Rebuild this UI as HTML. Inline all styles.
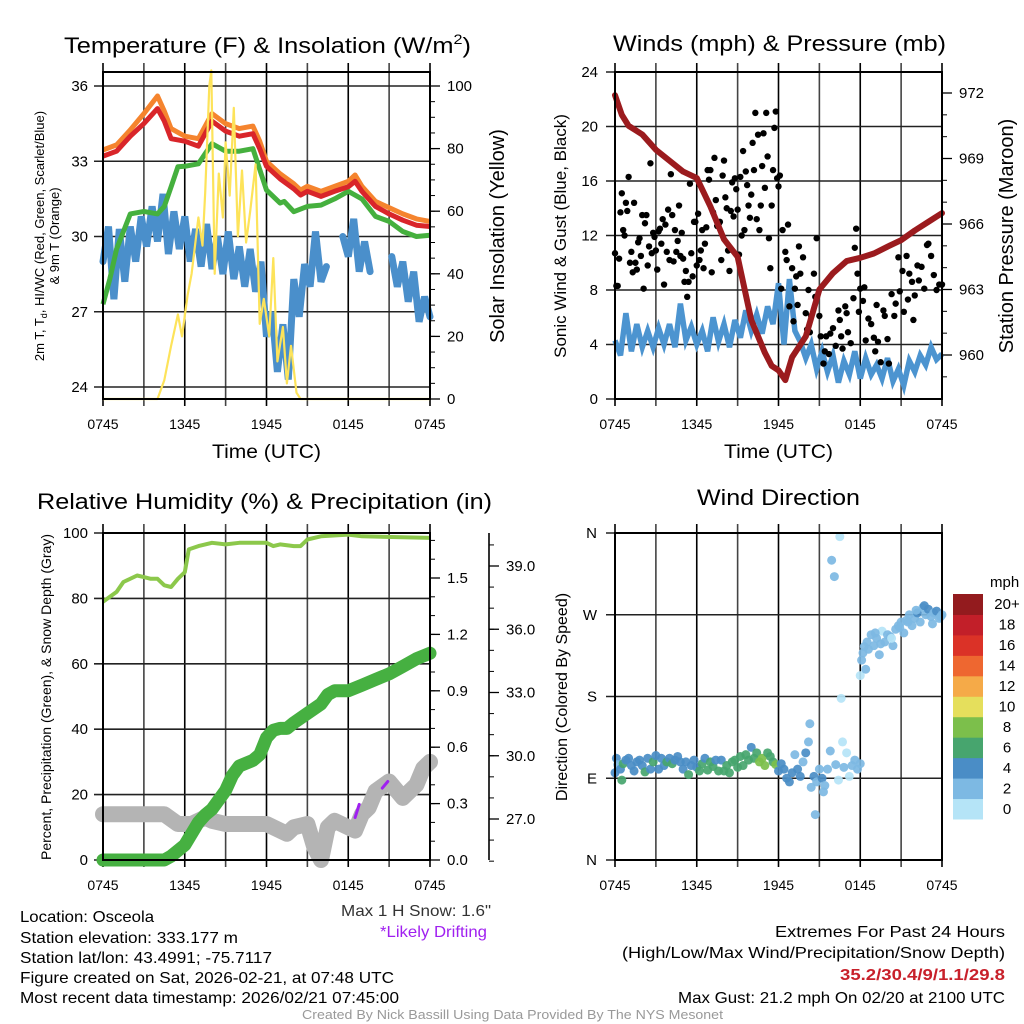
<!DOCTYPE html>
<html><head><meta charset="utf-8"><style>
html,body{margin:0;padding:0;background:#fff}
svg{display:block;font-family:"Liberation Sans",sans-serif}
</style></head><body>
<svg id="fig" xmlns="http://www.w3.org/2000/svg" width="1024" height="1024" viewBox="0 0 1024 1024">
<rect width="1024" height="1024" fill="#fff"/>
<g id="layer"></g>
<g font-size="22" fill="#000">
<text x="64" y="53" textLength="407" lengthAdjust="spacingAndGlyphs">Temperature (F) &amp; Insolation (W/m<tspan dy="-9" font-size="14">2</tspan><tspan dy="9">)</tspan></text>
<text x="613" y="51" textLength="333" lengthAdjust="spacingAndGlyphs">Winds (mph) &amp; Pressure (mb)</text>
<text x="37" y="509" textLength="455" lengthAdjust="spacingAndGlyphs">Relative Humidity (%) &amp; Precipitation (in)</text>
<text x="697" y="505" textLength="163" lengthAdjust="spacingAndGlyphs">Wind Direction</text>
</g>
<g font-size="19">
<text x="212" y="458" textLength="109" lengthAdjust="spacingAndGlyphs">Time (UTC)</text>
<text x="724" y="458" textLength="109" lengthAdjust="spacingAndGlyphs">Time (UTC)</text>
<text transform="translate(504,236) rotate(-90)" text-anchor="middle" font-size="20">Solar Insolation (Yellow)</text>
<text transform="translate(566,236) rotate(-90)" text-anchor="middle" font-size="17">Sonic Wind &amp; Gust (Blue, Black)</text>
<text transform="translate(1013,236) rotate(-90)" text-anchor="middle" font-size="20">Station Pressure (Maroon)</text>
<text transform="translate(567,697) rotate(-90)" text-anchor="middle" font-size="16">Direction (Colored By Speed)</text>
<text transform="translate(51,697) rotate(-90)" text-anchor="middle" font-size="14">Percent, Precipitation (Green), &amp; Snow Depth (Gray)</text>
<text transform="translate(44,236) rotate(-90)" text-anchor="middle" font-size="13">2m T, T<tspan font-size="9" dy="3">d</tspan><tspan dy="-3">, HI/WC (Red, Green, Scarlet/Blue)</tspan></text>
<text transform="translate(59,236) rotate(-90)" text-anchor="middle" font-size="13">&amp; 9m T (Orange)</text>
</g>
<g font-size="16">
<text x="20" y="922" textLength="134" lengthAdjust="spacingAndGlyphs">Location: Osceola</text>
<text x="20" y="943" textLength="218" lengthAdjust="spacingAndGlyphs">Station elevation: 333.177 m</text>
<text x="20" y="963" textLength="252" lengthAdjust="spacingAndGlyphs">Station lat/lon: 43.4991; -75.7117</text>
<text x="20" y="983" textLength="374" lengthAdjust="spacingAndGlyphs">Figure created on Sat, 2026-02-21, at 07:48 UTC</text>
<text x="20" y="1003" textLength="379" lengthAdjust="spacingAndGlyphs">Most recent data timestamp: 2026/02/21 07:45:00</text>
<text x="341" y="916" fill="#333" textLength="150" lengthAdjust="spacingAndGlyphs">Max 1 H Snow: 1.6"</text>
<text x="380" y="937" fill="#a020f0" textLength="107" lengthAdjust="spacingAndGlyphs">*Likely Drifting</text>
<text x="775" y="937" textLength="230" lengthAdjust="spacingAndGlyphs">Extremes For Past 24 Hours</text>
<text x="622" y="958" textLength="383" lengthAdjust="spacingAndGlyphs">(High/Low/Max Wind/Precipitation/Snow Depth)</text>
<text x="840" y="980" fill="#c8202a" font-weight="bold" textLength="165" lengthAdjust="spacingAndGlyphs">35.2/30.4/9/1.1/29.8</text>
<text x="678" y="1003" textLength="327" lengthAdjust="spacingAndGlyphs">Max Gust: 21.2 mph On 02/20 at 2100 UTC</text>
<text x="302" y="1019" fill="#999" font-size="13" textLength="421" lengthAdjust="spacingAndGlyphs">Created By Nick Bassill Using Data Provided By The NYS Mesonet</text>
</g>
</svg>
<script>
// ---------- DATA ----------
const timeLabels = ["0745","1345","1945","0145","0745"];
const tempHours = [0,1,2,3,4,4.5,5,6,7,8,9,10,11,11.5,12,13,14,14.5,15,16,17,18,18.5,19,20,21,22,23,24];
const tempRed   = [33.2,33.4,34.0,34.5,35.1,34.6,33.9,33.8,33.6,34.6,34.2,34.0,34.1,33.5,32.8,32.3,31.9,31.65,31.8,31.6,31.8,31.98,32.2,31.8,31.2,30.9,30.65,30.45,30.4];
const temp9m    = [33.45,33.65,34.25,34.9,35.6,35.0,34.3,34.0,33.9,34.9,34.5,34.3,34.4,33.8,33.0,32.5,32.1,31.85,32.0,31.8,32.0,32.2,32.45,32.0,31.4,31.15,30.9,30.7,30.6];
const dewHours  = [0,0.5,1,2,3,4,4.5,5,5.5,6,7,7.5,8,9,10,11,12,13,13.3,14,15,16,17,18,19,20,21,22,23,24];
const dewValues = [27.3,28.3,29.5,30.9,31.0,30.9,31.2,31.98,32.78,32.8,32.9,33.3,33.7,33.4,33.4,33.5,31.85,31.33,31.4,30.99,31.2,31.25,31.5,31.8,31.5,30.8,30.6,30.2,30.0,30.05];
const windChill = [29.0,30.4,27.5,30.3,28.2,30.4,29.0,30.8,29.6,31.2,29.8,31.7,29.3,31.0,29.5,30.8,29.0,30.3,28.8,30.5,28.7,30.0,28.5,30.2,28.3,29.6,28.0,29.5,27.8,29.0,26.0,27.0,24.6,26.5,24.3,28.3,26.8,28.9,28.0,30.2,28.2,28.8,null,null,30.0,29.2,30.7,28.6,29.8,28.6,null,null,null,29.2,28.0,29.0,27.4,28.6,26.6,27.6,26.8];
const solarHours = [0,4.0,4.5,5,5.5,5.8,6.2,6.5,7,7.3,7.5,7.8,7.95,8.2,8.5,8.8,9,9.3,9.6,9.9,10.2,10.5,10.8,11.2,11.5,11.8,12.2,12.5,12.8,13.2,13.5,13.8,14.2,14.5,24];
const solarValues = [0,0,6,17,27,20,33,40,58,49,66,100,105,40,72,58,82,65,93,52,73,50,60,75,24,32,20,45,12,23,5,17,2,0,0];
const presHours = [0,0.5,1,2,3,4,5,6,7,8,9,10,11,11.5,12,12.5,13,14,15,16,17,18,19,20,21,22,23,24];
const presValues = [971.9,971.0,970.5,970.1,969.4,968.9,968.4,968.1,966.8,965.3,964.5,961.6,960.1,959.5,959.3,958.85,959.9,960.85,963.0,963.75,964.3,964.45,964.65,964.96,965.26,965.7,966.1,966.5];
const windSpeed = [4.3,3.2,6.3,3.5,5.5,3.8,5.0,3.8,5.2,4.0,5.5,3.8,7.0,4.3,5.3,4.0,5.0,3.5,6.0,4.2,5.5,3.8,5.8,4.5,6.5,5.0,6.2,4.8,6.8,5.5,8.5,4.0,8.8,5.0,4.2,3.0,4.0,2.2,3.5,2.0,3.2,1.2,2.8,1.8,3.5,1.5,3.0,1.8,2.5,1.5,3.0,1.3,2.2,1.0,2.8,2.0,3.2,2.5,3.8,2.9,3.3];
const gustHours = [0,0.1,0.2,0.3,0.4,0.5,0.6,0.7,0.8,0.9,1.0,1.1,1.2,1.3,1.4,1.5,1.6,1.7,1.8,1.9,2.0,2.1,2.2,2.3,2.4,2.5,2.6,2.7,2.8,2.9,3.0,3.1,3.2,3.3,3.4,3.5,3.6,3.7,3.8,3.9,4.0,4.1,4.2,4.3,4.4,4.5,4.6,4.7,4.8,4.9,5.0,5.1,5.2,5.3,5.4,5.5,5.6,5.7,5.8,5.9,6.0,6.1,6.2,6.3,6.4,6.5,6.6,6.7,6.8,6.9,7.0,7.1,7.2,7.3,7.4,7.5,7.6,7.7,7.8,7.9,8.0,8.1,8.2,8.3,8.4,8.5,8.6,8.7,8.8,8.9,9.0,9.1,9.2,9.3,9.4,9.5,9.6,9.7,9.8,9.9,10.0,10.1,10.2,10.3,10.4,10.5,10.6,10.7,10.8,10.9,11.0,11.1,11.2,11.3,11.4,11.5,11.6,11.7,11.8,11.9,12.0,12.1,12.2,12.3,12.5,12.6,12.7,12.8,13.0,13.1,13.2,13.3,13.4,13.5,13.6,13.8,14.0,14.1,14.2,14.3,14.4,14.6,14.7,14.8,15.0,15.1,15.3,15.4,15.5,15.7,15.8,16.0,16.2,16.4,16.5,16.6,16.7,16.9,17.0,17.1,17.3,17.5,17.6,17.7,17.8,17.9,18.0,18.2,18.3,18.4,18.6,18.8,19.0,19.1,19.2,19.3,19.5,19.7,19.8,20.0,20.1,20.3,20.5,20.6,20.8,20.9,21.1,21.2,21.4,21.5,21.6,21.8,21.9,22.0,22.2,22.3,22.5,22.7,22.9,23.0,23.2,23.4,23.6,23.8,24.0];
const gustValues = [10.7,8.3,8.3,10.3,13.7,15.1,12.4,12,14.4,13.8,16.3,10,10.8,9.3,14.4,10,9.5,11.5,11.8,10.5,13.5,8.1,12.9,13.5,9.8,11.2,17.3,10.7,12.2,11.9,10.9,9.5,12.3,12.5,11.4,13.2,8.4,12.8,10.8,13.9,10.2,16.5,13.5,10.1,12.4,10.8,11.6,14.2,10.5,12.2,10.3,8.6,9.4,7.5,8.6,15.8,10.7,9.0,13.0,13.0,9.8,13.6,10.2,10.9,12.4,9.6,11.4,12.6,16.8,16.1,16.8,9.3,13.7,17.7,14.6,12.7,12.8,13.0,10.2,16.4,17.5,14.8,14.0,10.9,9.4,13.8,15.9,13.4,16.2,15.4,13.9,10.6,16.3,12.0,18.2,12.4,16.7,15.7,14.2,13.3,15.0,18.8,16.8,21.0,13.2,19.4,12.4,14.2,17.1,19.5,15.5,21.0,17.8,11.8,9.6,14.2,16.8,19.9,21.1,16.2,15.6,16.4,8.1,12.4,10.8,10.2,12.8,6.8,9.6,5.7,8.1,9.0,6.9,11.2,9.2,10.4,6.3,5.1,8.0,4.9,6.1,9.2,7.5,11.8,6.1,4.6,2.6,3.5,4.6,3.3,4.8,5.2,3.9,6.5,5.8,4.6,3.7,6.8,6.3,4.9,4.1,7.4,11.1,12.5,9.2,6.4,8.1,7.2,8.2,4.3,5.9,5.5,4.5,3.5,6.9,4.2,2.7,6.5,6.1,4.4,2.6,7.7,6.1,7.0,10.4,7.9,9.4,6.4,10.5,7.3,9.2,8.6,5.8,7.6,9.8,8.7,9.7,8.1,11.3,11.4,10.5,9.1,8.0,8.4,8.4];
const rhHours  = [0,1,1.5,2.5,3,3.5,4,4.5,5,5.5,6,6.3,7,8,9,10,11,12,12.5,13,14,14.5,15,16,18,19,24];
const rhValues = [79,82,85,87,86.5,86,86,84,83.5,86,88,95,96,97,96.5,97,97,97,96,96.5,96,96,98,99,99.5,99,98.5];
const precipHours  = [0,4.5,5,6,7,7.5,8,9,9.5,10,11,11.5,12,12.5,13,13.5,14,15,16,16.5,17,18,19,20,21,22,23,24];
const precipValues = [0,0,0.02,0.08,0.2,0.24,0.27,0.37,0.45,0.5,0.53,0.56,0.65,0.69,0.7,0.7,0.73,0.78,0.83,0.88,0.9,0.9,0.93,0.96,0.99,1.03,1.07,1.1];
const precipTicks = [0.0,0.3,0.6,0.9,1.2,1.5];
const snowHours  = [0,4.5,5.5,6.5,7.5,8,9,12,13.5,14,15,15.5,16,16.5,17,18,18.5,19,19.5,20,21,22,23,23.5,24];
const snowValues = [14,14,11,11,13,12,11,11,8,10,11,4,0,10,12,10,9,14,16,21,24,19,23,28,30];
const driftHours = [[18.5,18.8],[20.5,20.9]];
const driftValues = [[13,17],[22,24]];
const depthTicks = [27.0,30.0,33.0,36.0,39.0];
const dirHours = [
 0,0.1,0.2,0.4,0.5,0.6,0.8,1.0,1.2,1.4,1.6,1.8,2.0,2.2,2.4,2.6,2.8,3.0,3.2,3.4,3.6,3.8,4.0,4.2,4.4,4.6,4.8,5.0,5.2,5.4,5.6,5.8,6.0,6.2,6.4,6.6,6.8,7.0,7.2,7.4,7.6,7.8,8.0,8.2,8.4,8.6,8.8,9.0,9.2,9.4,9.6,9.8,10.0,10.2,10.4,10.6,10.8,11.0,11.2,11.4,11.6,11.8,
 12.0,12.2,12.4,12.6,12.8,13.0,13.2,13.4,13.6,13.8,14.0,14.2,14.3,14.4,14.6,14.7,14.8,15.0,15.2,15.3,15.4,15.6,15.8,15.9,16.1,16.2,16.4,16.5,16.6,16.7,16.8,17.0,17.2,17.4,17.6,17.8,18.0,
 18.0,18.1,18.2,18.3,18.4,18.5,18.6,18.8,19.0,19.2,19.4,19.6,19.8,20.0,20.2,20.4,20.6,20.8,21.0,21.2,21.4,21.6,21.8,22.0,22.2,22.4,22.6,22.8,23.0,23.2,23.4,23.6,23.8,24.0,19.1,19.5,20.3,20.9,21.5,22.1,22.7,23.3,23.9];
const dirValues = [
 96,112,105,100,88,106,110,112,104,98,108,110,104,97,112,100,108,115,100,112,104,108,112,106,110,114,108,100,108,94,104,110,102,98,106,112,99,108,103,110,98,110,98,104,96,108,110,102,114,104,116,110,124,112,118,108,112,104,118,114,108,105,
 98,106,100,90,86,96,116,100,92,108,118,130,150,80,92,50,86,100,90,75,82,100,120,330,312,105,88,356,178,130,102,118,92,104,110,100,106,
 203,220,228,235,210,240,232,248,236,244,226,252,240,248,246,236,254,258,262,250,264,270,258,266,272,262,278,270,276,268,272,274,266,270,250,238,244,256,262,275,280,260,268];
const dirSpeeds = [
 5,5,3,5,7,7,5,5,5,5,5,5,5,7,5,5,7,5,5,5,5,7,5,7,5,5,5,5,5,7,5,5,5,7,7,5,7,7,7,5,7,5,7,7,7,7,7,7,7,7,7,7,5,7,7,9,9,9,7,7,7,9,
 5,5,5,5,5,5,3,5,5,3,5,3,3,3,5,3,3,3,5,3,3,3,3,3,3,3,1,1,1,1,3,1,1,3,3,3,3,
 1,3,3,3,3,3,3,3,3,3,3,1,3,3,3,3,3,3,3,3,3,3,3,3,5,3,3,3,5,3,3,5,3,3,3,3,1,3,3,3,5,3,3];
const speedLabels = ["0","2","4","6","8","10","12","14","16","18","20+"];
const speedColors = ["#b5e4f7","#7db9e3","#4a8dc6","#47a56e","#7cbf4b","#e5df5c","#f5aa48","#ee6730","#db3227","#c21f29","#931b1e"];

// ---------- HELPERS ----------
const NS = "http://www.w3.org/2000/svg";
const layer = document.getElementById("layer");
function mk(tag, attrs, parent) {
  const e = document.createElementNS(NS, tag);
  for (const k in attrs) e.setAttribute(k, attrs[k]);
  (parent || layer).appendChild(e);
  return e;
}
function lin(d0, d1, r0, r1) { return v => r0 + (v - d0) * (r1 - r0) / (d1 - d0); }
function pathD(xs, ys, fx, fy) {
  let d = "", pen = false;
  for (let i = 0; i < xs.length; i++) {
    if (ys[i] === null || ys[i] === undefined) { pen = false; continue; }
    d += (pen ? "L" : "M") + fx(xs[i]).toFixed(1) + " " + fy(ys[i]).toFixed(1);
    pen = true;
  }
  return d;
}
function stepHours(n) { const a = []; for (let i = 0; i < n; i++) a.push(i * 24 / (n - 1)); return a; }

function panelGrid(name, x0, x1, y0, y1, hTicks, fy) {
  const fx = lin(0, 24, x0, x1);
  for (let h = 0; h <= 24; h += 3) {
    const g = mk("line", {x1: fx(h), x2: fx(h), y1: y0 - 9, y2: y1 + 7, stroke: (h % 6 === 0) ? "#000" : "#444", "stroke-width": 1.6});
    
    
  }
  for (let i = 0; i < hTicks.length; i++) {
    const y = fy(hTicks[i]);
    const g = mk("line", {x1: x0 - 9, x2: x1, y1: y, y2: y, stroke: "#222", "stroke-width": 1.6});
    
    
  }
  for (let i = 0; i < timeLabels.length; i++) {
    const t = mk("text", {x: fx(i * 6), y: y1 + 30, "text-anchor": "middle", "font-size": 14});
    
    
    t.textContent = timeLabels[i];
  }
  return fx;
}
function frame(name, x0, x1, y0, y1) {
  const r = mk("rect", {x: x0, y: y0, width: x1 - x0, height: y1 - y0, fill: "none", stroke: "#000", "stroke-width": 2});
  
  
}
function leftLabels(name, ticks, fy, x, fmt) {
  for (let i = 0; i < ticks.length; i++) {
    const t = mk("text", {x: x, y: fy(ticks[i]) + 5, "text-anchor": "end", "font-size": 15});
    
    
    t.textContent = fmt ? fmt(ticks[i]) : ticks[i];
  }
}
function rightAxis(name, ticks, fy, xAxis, fmt, minorStep, lo, hi) {
  for (let v = lo; v <= hi + 1e-9; v += minorStep) {
    const m = mk("line", {x1: xAxis, x2: xAxis + 5, y1: fy(v), y2: fy(v), stroke: "#000", "stroke-width": 1});
    
    
  }
  for (let i = 0; i < ticks.length; i++) {
    const y = fy(ticks[i]);
    const l = mk("line", {x1: xAxis, x2: xAxis + 10, y1: y, y2: y, stroke: "#000", "stroke-width": 1.3});
    
    
    const t = mk("text", {x: xAxis + 17, y: y + 5, "font-size": 15});
    
    
    t.textContent = fmt ? fmt(ticks[i]) : ticks[i];
  }
}

// ---------- PANEL 1: Temperature ----------
(function () {
  const X0 = 103, X1 = 430, Y0 = 72, Y1 = 399;
  const fyT = lin(24, 36, 387, 86);
  const fyS = lin(0, 100, 399, 86);
  const fx = panelGrid("temp", X0, X1, Y0, Y1, [24, 27, 30, 33, 36], fyT);
  leftLabels("temp", [24, 27, 30, 33, 36], fyT, 88);
  rightAxis("insolation", [0, 20, 40, 60, 80, 100], fyS, X1, null, 5, 0, 100);
  const chill = mk("path", {d: pathD(stepHours(windChill.length), windChill, fx, fyT), fill: "none", stroke: "#4a8fcb", "stroke-width": 7, "stroke-linejoin": "miter", "stroke-linecap": "round"});
  
  
  const dew = mk("path", {d: pathD(dewHours, dewValues, fx, fyT), fill: "none", stroke: "#45b03e", "stroke-width": 5, "stroke-linejoin": "round"});
  
  
  const t9 = mk("path", {d: pathD(tempHours, temp9m, fx, fyT), fill: "none", stroke: "#f5842e", "stroke-width": 5, "stroke-linejoin": "round"});
  
  
  const t2 = mk("path", {d: pathD(tempHours, tempRed, fx, fyT), fill: "none", stroke: "#d9252a", "stroke-width": 5, "stroke-linejoin": "round"});
  
  
  const sol = mk("path", {d: pathD(solarHours, solarValues, fx, fyS), fill: "none", stroke: "#fde35a", "stroke-width": 2.2, "stroke-linejoin": "round"});
  
  
  frame("temp", X0, X1, Y0, Y1);
})();

// ---------- PANEL 2: Winds ----------
(function () {
  const X0 = 615, X1 = 942, Y0 = 72, Y1 = 399;
  const fyW = lin(0, 24, 399, 72);
  const fyP = lin(960, 972, 355, 93);
  const fx = panelGrid("winds", X0, X1, Y0, Y1, [0, 4, 8, 12, 16, 20, 24], fyW);
  leftLabels("winds", [0, 4, 8, 12, 16, 20, 24], fyW, 598);
  rightAxis("pressure", [960, 963, 966, 969, 972], fyP, X1, null, 1, 959, 972);
  const ws = mk("path", {d: pathD(stepHours(windSpeed.length), windSpeed, fx, fyW), fill: "none", stroke: "#4c94d0", "stroke-width": 5.5, "stroke-linejoin": "miter"});
  
  
  const nG = Math.min(gustHours.length, gustValues.length);
  for (let i = 0; i < nG; i++) {
    const c = mk("circle", {cx: fx(gustHours[i]), cy: fyW(gustValues[i]), r: 3.2, fill: "#000"});
    
    
  }
  const pr = mk("path", {d: pathD(presHours, presValues, fx, fyP), fill: "none", stroke: "#9b1b1e", "stroke-width": 6, "stroke-linejoin": "round", "stroke-linecap": "round"});
  
  
  frame("winds", X0, X1, Y0, Y1);
})();

// ---------- PANEL 3: Humidity ----------
(function () {
  const X0 = 103, X1 = 430, Y0 = 533, Y1 = 860;
  const fyR = lin(0, 100, 860, 533);
  const fyPr = lin(0, 1.5, 860, 578);
  const fyD = lin(27, 39, 819, 566);
  const fx = panelGrid("humidity", X0, X1, Y0, Y1, [0, 20, 40, 60, 80, 100], fyR);
  leftLabels("humidity", [0, 20, 40, 60, 80, 100], fyR, 88);
  rightAxis("precip", precipTicks, fyPr, X1, v => v.toFixed(1), 0.1, 0, 1.7);
  const ax = mk("line", {x1: 489, x2: 489, y1: 533, y2: 860, stroke: "#000", "stroke-width": 1.6});
  
  
  rightAxis("snow-depth", depthTicks, fyD, 489, v => v.toFixed(1), 1, 25, 40);
  const rh = mk("path", {d: pathD(rhHours, rhValues, fx, fyR), fill: "none", stroke: "#8cc84b", "stroke-width": 4, "stroke-linejoin": "round"});
  
  
  const sn = mk("path", {d: pathD(snowHours, snowValues, fx, fyR), fill: "none", stroke: "#b4b4b4", "stroke-width": 16, "stroke-linejoin": "round", "stroke-linecap": "round"});
  
  
  const pc = mk("path", {d: pathD(precipHours, precipValues, fx, fyPr), fill: "none", stroke: "#46b041", "stroke-width": 13, "stroke-linejoin": "round", "stroke-linecap": "round"});
  
  
  for (let i = 0; i < driftHours.length; i++) {
    const dl = mk("path", {d: pathD(driftHours[i], driftValues[i], fx, fyR), fill: "none", stroke: "#a020f0", "stroke-width": 3, "stroke-linecap": "round"});
    
    
  }
  frame("humidity", X0, X1, Y0, Y1);
})();

// ---------- PANEL 4: Wind Direction ----------
(function () {
  const X0 = 615, X1 = 942, Y0 = 533, Y1 = 860;
  const fyD = lin(0, 360, 860, 533);
  const fx = panelGrid("direction", X0, X1, Y0, Y1, [0, 90, 180, 270, 360], fyD);
  const dirNames = ["N", "E", "S", "W", "N"];
  for (let i = 0; i < dirNames.length; i++) {
    const t = mk("text", {x: 597, y: fyD(i * 90) + 5, "text-anchor": "end", "font-size": 15});
    
    
    t.textContent = dirNames[i];
  }
  const nD = Math.min(dirHours.length, dirValues.length, dirSpeeds.length);
  for (let i = 0; i < nD; i++) {
    const bin = Math.min(10, Math.floor(dirSpeeds[i] / 2));
    const c = mk("circle", {cx: fx(dirHours[i]), cy: fyD(dirValues[i]), r: 4.5, fill: speedColors[bin], "fill-opacity": 0.92});
    
    
  }
  frame("direction", X0, X1, Y0, Y1);
  const cbTop = 594, cbBot = 819, bandH = (cbBot - cbTop) / speedLabels.length;
  const ut = mk("text", {x: 990, y: 587, "font-size": 15});
  
  
  ut.textContent = "mph";
  for (let i = 0; i < speedLabels.length; i++) {
    const y = cbBot - (i + 1) * bandH;
    const r = mk("rect", {x: 953, y: y, width: 30, height: bandH + 0.5, fill: speedColors[i]});
    
    
    const t = mk("text", {x: 1007, y: y + bandH / 2 + 5, "text-anchor": "middle", "font-size": 15});
    
    
    t.textContent = speedLabels[i];
  }
})();
</script>
</body></html>
